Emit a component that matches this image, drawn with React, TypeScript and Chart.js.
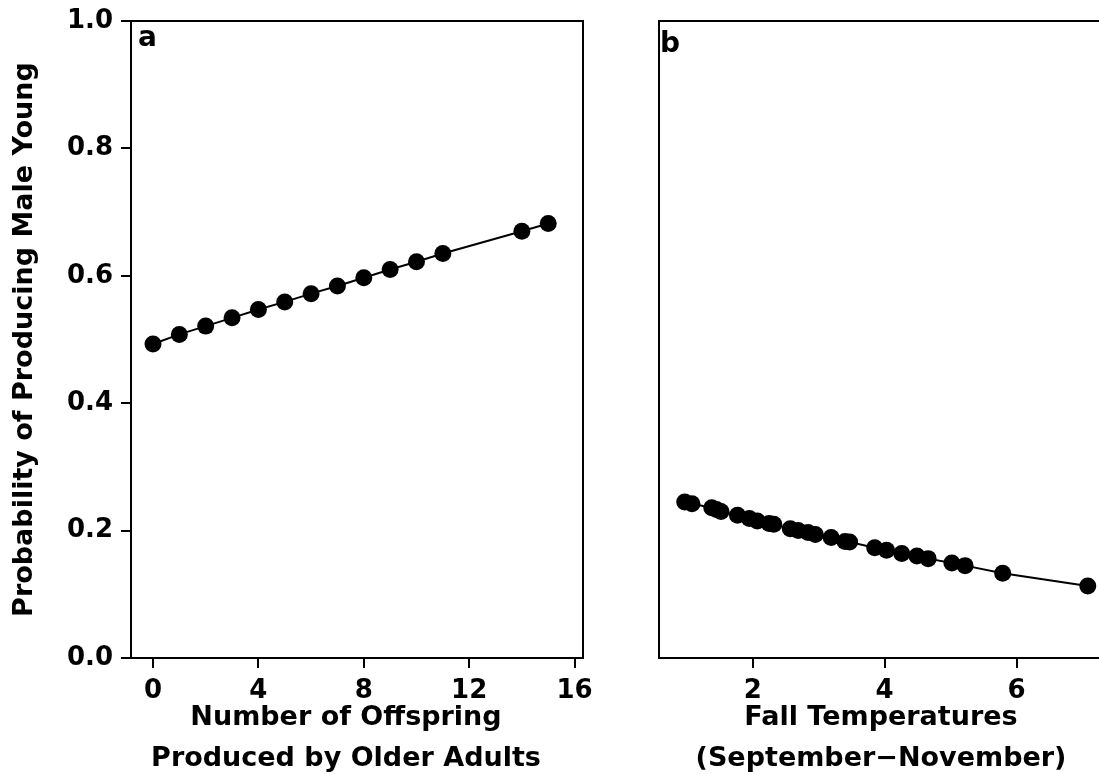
import React, { useEffect, useRef } from "react";
import { Chart, registerables } from "chart.js";

Chart.register(...registerables);

// ---- data ----
const offspringX = [0, 1, 2, 3, 4, 5, 6, 7, 8, 9, 10, 11, 14, 15];
const offspringP = [0.493, 0.508, 0.521, 0.534, 0.547, 0.559, 0.572, 0.584, 0.597, 0.61, 0.622, 0.635, 0.67, 0.682];

const tempX = [0.97, 1.08, 1.38, 1.45, 1.52, 1.77, 1.95, 2.07, 2.25, 2.32, 2.57, 2.69, 2.84, 2.95, 3.19, 3.4, 3.47, 3.85, 4.03, 4.26, 4.49, 4.66, 5.02, 5.22, 5.79, 7.08];
const tempP = [0.245, 0.242, 0.236, 0.233, 0.23, 0.224, 0.219, 0.215, 0.211, 0.21, 0.203, 0.2, 0.197, 0.194, 0.189, 0.183, 0.182, 0.173, 0.169, 0.164, 0.16, 0.156, 0.149, 0.145, 0.133, 0.113];

const yTicks = [0, 0.2, 0.4, 0.6, 0.8, 1.0];
const offspringTicks = [0, 4, 8, 12, 16];
const tempTicks = [2, 4, 6];

const yTitle = "Probability of Producing Male Young";
const offspringTitle = ["Number of Offspring", "Produced by Older Adults"];
const tempTitle = ["Fall Temperatures", "(September\u2212November)"];

const FONT = '"DejaVu Sans", Verdana, sans-serif';

const decorPlugin = {
  id: "panelDecor",
  afterDraw(chart: any, _args: any, opts: any) {
    const { ctx, chartArea: ca } = chart;
    ctx.save();
    ctx.strokeStyle = "#000";
    ctx.lineWidth = 2;
    ctx.beginPath();
    ctx.moveTo(ca.left - 1, ca.top);
    ctx.lineTo(ca.right + (opts.rightBorder ? 1 : 0), ca.top);
    if (opts.rightBorder) {
      ctx.moveTo(ca.right, ca.top);
      ctx.lineTo(ca.right, ca.bottom);
    }
    ctx.stroke();
    ctx.fillStyle = "#000";
    ctx.font = `bold 28px ${FONT}`;
    ctx.textAlign = "left";
    ctx.textBaseline = "alphabetic";
    ctx.fillText(opts.letter, ca.left + opts.letterDx, opts.letterY);
    ctx.font = `bold 27px ${FONT}`;
    ctx.textAlign = "center";
    ctx.textBaseline = "middle";
    const cx = (ca.left + ca.right) / 2 + opts.titleDx;
    (opts.title as string[]).forEach((t, i) => ctx.fillText(t, cx, ca.bottom + 60 + i * 41));
    ctx.restore();
  },
};

function makeConfig(opts: {
  xs: number[];
  ys: number[];
  xMin: number;
  xMax: number;
  xTicks: number[];
  showY: boolean;
  yWidth: number;
  padRight: number;
  letter: string;
  letterDx: number;
  letterY: number;
  title: string[];
  titleDx: number;
  rightBorder: boolean;
}): any {
  const points = opts.xs.map((x, i) => ({ x, y: opts.ys[i] }));
  return {
    type: "scatter",
    data: {
      datasets: [
        {
          data: points,
          showLine: true,
          borderColor: "#000",
          borderWidth: 2,
          backgroundColor: "#000",
          pointBackgroundColor: "#000",
          pointBorderWidth: 0,
          pointRadius: 8.5,
          pointHoverRadius: 8.5,
          tension: 0,
          clip: false,
        },
      ],
    },
    options: {
      responsive: false,
      animation: false,
      devicePixelRatio: 1,
      layout: { autoPadding: false, padding: { top: 21, right: opts.padRight, left: 0, bottom: 0 } },
      plugins: {
        legend: { display: false },
        tooltip: { enabled: false },
        panelDecor: {
          letter: opts.letter,
          letterDx: opts.letterDx,
          letterY: opts.letterY,
          title: opts.title,
          titleDx: opts.titleDx,
          rightBorder: opts.rightBorder,
        },
      },
      scales: {
        x: {
          type: "linear",
          min: opts.xMin,
          max: opts.xMax,
          afterBuildTicks: (s: any) => {
            s.ticks = opts.xTicks.map((v) => ({ value: v }));
          },
          afterFit: (s: any) => {
            s.height = 116;
          },
          grid: {
            display: true,
            drawOnChartArea: false,
            drawTicks: true,
            tickLength: 10,
            color: "#000",
            lineWidth: 2,
          },
          border: { display: true, color: "#000", width: 2 },
          ticks: {
            color: "#000",
            padding: 10,
            maxRotation: 0,
            font: { family: FONT, size: 26, weight: "bold", lineHeight: 1 },
            callback: (v: any) => String(v),
          },
          title: { display: false },
        },
        y: {
          type: "linear",
          min: 0,
          max: 1,
          afterBuildTicks: (s: any) => {
            s.ticks = yTicks.map((v) => ({ value: v }));
          },
          afterFit: (s: any) => {
            s.width = opts.yWidth;
          },
          grid: {
            display: true,
            drawOnChartArea: false,
            drawTicks: opts.showY,
            tickLength: opts.showY ? 10 : 0,
            color: "#000",
            lineWidth: 2,
          },
          border: { display: true, color: "#000", width: 2 },
          ticks: {
            display: opts.showY,
            color: "#000",
            padding: 8,
            font: { family: FONT, size: 26, weight: "bold", lineHeight: 1 },
            callback: (v: any) => Number(v).toFixed(1),
          },
          title: {
            display: opts.showY,
            text: yTitle,
            color: "#000",
            padding: { top: 9, bottom: 0 },
            font: { family: FONT, size: 27, weight: "bold", lineHeight: 1.2 },
          },
        },
      },
    },
    plugins: [decorPlugin],
  };
}

export default function App() {
  const refA = useRef<HTMLCanvasElement>(null);
  const refB = useRef<HTMLCanvasElement>(null);

  useEffect(() => {
    const a = new Chart(
      refA.current as HTMLCanvasElement,
      makeConfig({
        xs: offspringX,
        ys: offspringP,
        xMin: -0.835,
        xMax: 16.32,
        xTicks: offspringTicks,
        showY: true,
        yWidth: 131,
        padRight: 27,
        letter: "a",
        letterDx: 7,
        letterY: 46,
        title: offspringTitle,
        titleDx: -11,
        rightBorder: true,
      })
    );
    const b = new Chart(
      refB.current as HTMLCanvasElement,
      makeConfig({
        xs: tempX,
        ys: tempP,
        xMin: 0.58,
        xMax: 7.25,
        xTicks: tempTicks,
        showY: false,
        yWidth: 59,
        padRight: 0,
        letter: "b",
        letterDx: 1,
        letterY: 52,
        title: tempTitle,
        titleDx: 2,
        rightBorder: false,
      })
    );
    return () => {
      a.destroy();
      b.destroy();
    };
  }, []);

  return (
    <div style={{ position: "fixed", left: 0, top: 0, width: 1099, height: 774, background: "#fff", overflow: "hidden" }}>
      <canvas ref={refA} width={610} height={774} style={{ position: "absolute", left: 0, top: 0, display: "block" }} />
      <canvas ref={refB} width={499} height={774} style={{ position: "absolute", left: 600, top: 0, display: "block" }} />
    </div>
  );
}
